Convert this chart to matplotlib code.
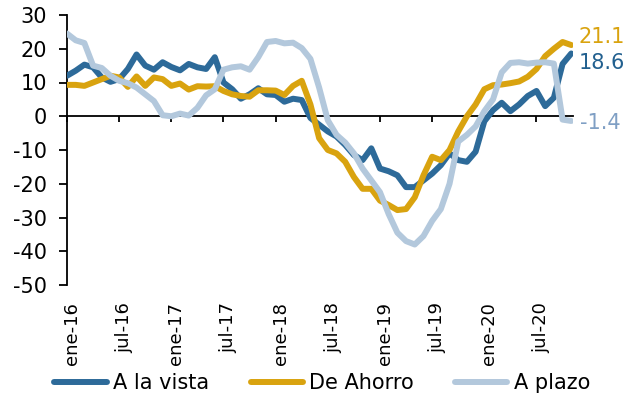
import matplotlib
matplotlib.use("Agg")
import matplotlib.pyplot as plt
import matplotlib.transforms as mtransforms
import numpy as np

plt.rcParams["axes.unicode_minus"] = False

# monthly values, ene-16 .. nov-20
a_la_vista = [12, 13.5, 15.3, 14.5, 11.5, 10.2, 11, 14, 18.3, 15, 13.8, 16,
              14.6, 13.6, 15.5, 14.5, 14, 17.5, 10, 8, 5.2, 6.5, 8.3, 6.5,
              6.3, 4.3, 5.2, 4.8, -0.5, -2.5, -4.5, -6, -8.5, -11.5, -13, -9.5,
              -15.5, -16.3, -17.5, -21, -21, -19, -17, -14.5, -11, -13, -13.5, -10.5,
              -1.5, 1.8, 4, 1.5, 3.5, 6, 7.5, 3, 5.5, 15.5, 18.6]
de_ahorro = [9.3, 9.3, 9, 10, 11, 12, 11.5, 8.7, 11.8, 9, 11.5, 11,
             9, 9.7, 7.9, 8.9, 8.8, 8.9, 7.5, 6.5, 6, 5.8, 7.7, 7.7,
             7.6, 6.3, 9, 10.5, 3.5, -6.5, -10, -11, -13.5, -18, -21.5, -21.5,
             -25, -26.3, -27.8, -27.5, -24, -17.5, -12, -13, -10, -4.5, 0, 3.5,
             8, 9.2, 9.4, 9.8, 10.3, 11.7, 14, 17.8, 20, 22, 21.1]
a_plazo = [24.5, 22.5, 21.7, 15, 14.3, 12, 10.5, 9.8, 8.5, 6.5, 4.5, 0.3,
           0, 0.8, 0.2, 2.5, 6.2, 8, 13.8, 14.5, 14.8, 13.8, 17.5, 22,
           22.3, 21.6, 21.8, 20.2, 17, 8.5, -1.2, -5.5, -7.8, -11, -15.5, -19,
           -22.5, -29, -34.5, -37, -38, -35.5, -31, -27.5, -20, -7.5, -5.5, -3,
           1.5, 5, 13, 15.8, 16, 15.6, 15.9, 16, 15.6, -1, -1.4]

tick_labels = ["ene-16", "jul-16", "ene-17", "jul-17", "ene-18",
               "jul-18", "ene-19", "jul-19", "ene-20", "jul-20"]
y_ticks = [30, 20, 10, 0, -10, -20, -30, -40, -50]

c_vista = "#2d6a99"
c_ahorro = "#d9a30f"
c_plazo = "#b3c8dc"

x = np.arange(len(a_la_vista))

fig = plt.figure(figsize=(6.27, 4.01), dpi=100)
ax = fig.add_axes([67 / 627, 1 - 285 / 401, 506 / 627, 270 / 401])

ax.plot(x, a_la_vista, color=c_vista, lw=4.3, solid_capstyle="round",
        solid_joinstyle="round", label="A la vista", zorder=3)
ax.plot(x, de_ahorro, color=c_ahorro, lw=4.3, solid_capstyle="round",
        solid_joinstyle="round", label="De Ahorro", zorder=3)
ax.plot(x, a_plazo, color=c_plazo, lw=4.3, solid_capstyle="round",
        solid_joinstyle="round", label="A plazo", zorder=3)

ax.set_xlim(0, 58.2)
ax.set_ylim(-50, 30)
ax.set_yticks(y_ticks)
ax.tick_params(axis="y", labelsize=15, length=5.5, width=1.3, direction="out", pad=9)

# x axis line at zero, ticks only
for s in ["top", "right"]:
    ax.spines[s].set_visible(False)
ax.spines["left"].set_linewidth(1.3)
ax.spines["bottom"].set_position(("data", 0))
ax.spines["bottom"].set_linewidth(1.3)
ax.set_xticks(x[::6])
ax.tick_params(axis="x", length=4.5, width=1.3, direction="out", labelbottom=False)

# tick labels at the bottom of the plot area
sec = ax.secondary_xaxis("bottom")
sec.set_xticks(x[::6])
sec.set_xticklabels(tick_labels, rotation=90, fontsize=13)
sec.tick_params(length=0, pad=12)
sec.spines["bottom"].set_visible(False)
offset = mtransforms.ScaledTranslation(5 / 100, 0, fig.dpi_scale_trans)
for lab in sec.get_xticklabels():
    lab.set_transform(lab.get_transform() + offset)

# end labels
last = len(x) - 1
ax.annotate("21.1", (x[last], de_ahorro[-1]), xytext=(7, 8), textcoords="offset pixels",
            color=c_ahorro, fontsize=15, va="center", annotation_clip=False)
ax.annotate("18.6", (x[last], a_la_vista[-1]), xytext=(7, -10), textcoords="offset pixels",
            color="#22608f", fontsize=15, va="center", annotation_clip=False)
ax.annotate("-1.4", (x[last], a_plazo[-1]), xytext=(9, -2), textcoords="offset pixels",
            color="#7f9fc4", fontsize=15, va="center", annotation_clip=False)

fig.legend(loc="center", bbox_to_anchor=(0.514, 0.045), ncol=3, frameon=False,
           fontsize=15, handlelength=2.5, handletextpad=0.3, columnspacing=2.0)

fig.savefig("out.png", dpi=100)
